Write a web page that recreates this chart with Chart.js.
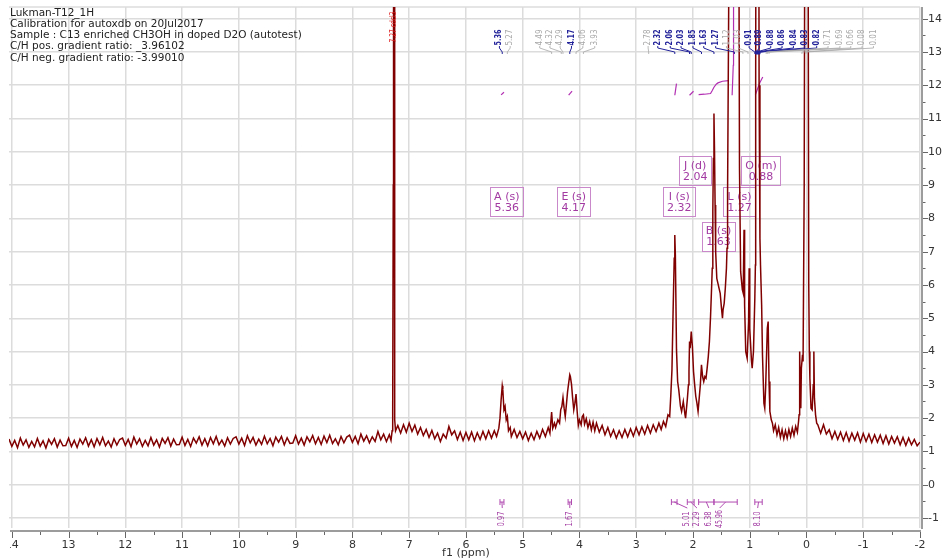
<!DOCTYPE html>
<html>
<head>
<meta charset="utf-8">
<script src="https://cdn.jsdelivr.net/npm/chart.js@4.4.1/dist/chart.umd.min.js"></script>
<style>
  html, body { margin: 0; padding: 0; background: #fff; }
  #wrap { width: 942px; height: 560px; }
</style>
</head>
<body>
<div id="wrap"><canvas id="nmr" width="942" height="560"></canvas></div>
<script>
// --- header text (top left of the plot)
const headerLines = [
    'Lukman-T12_1H',
    'Calibration for autoxdb on 20Jul2017',
    'Sample : C13 enriched CH3OH in doped D2O (autotest)',
    'C/H pos. gradient ratio: _3.96102',
    'C/H neg. gradient ratio: -3.99010'
];

// --- axes
const xTicks = [14, 13, 12, 11, 10, 9, 8, 7, 6, 5, 4, 3, 2, 1, 0, -1, -2];
const yTicks = [14, 13, 12, 11, 10, 9, 8, 7, 6, 5, 4, 3, 2, 1, 0, -1];
const xTitle = 'f1 (ppm)';

// --- 1H spectrum, [ppm, intensity]
const spectrumPoints = [
    [14.05,1.37],[14.00,1.15],[13.95,1.33],[13.90,1.11],[13.85,1.40],[13.80,1.19],[13.75,1.35],[13.70,1.12],[13.65,1.30],[13.60,1.14],
    [13.55,1.39],[13.50,1.16],[13.45,1.32],[13.40,1.10],[13.35,1.36],[13.30,1.21],[13.25,1.38],[13.20,1.13],[13.15,1.34],[13.10,1.17],
    [13.05,1.18],[13.00,1.40],[12.95,1.15],[12.90,1.33],[12.85,1.12],[12.80,1.37],[12.75,1.22],[12.70,1.41],[12.65,1.16],[12.60,1.35],
    [12.55,1.14],[12.50,1.39],[12.45,1.20],[12.40,1.42],[12.35,1.17],[12.30,1.31],[12.25,1.13],[12.20,1.38],[12.15,1.19],[12.10,1.36],
    [12.05,1.40],[12.00,1.18],[11.95,1.36],[11.90,1.14],[11.85,1.43],[11.80,1.22],[11.75,1.38],[11.70,1.15],[11.65,1.33],[11.60,1.17],
    [11.55,1.42],[11.50,1.19],[11.45,1.35],[11.40,1.13],[11.35,1.39],[11.30,1.24],[11.25,1.41],[11.20,1.16],[11.15,1.37],[11.10,1.20],
    [11.05,1.21],[11.00,1.43],[10.95,1.18],[10.90,1.36],[10.85,1.15],[10.80,1.40],[10.75,1.25],[10.70,1.44],[10.65,1.19],[10.60,1.38],
    [10.55,1.17],[10.50,1.42],[10.45,1.23],[10.40,1.45],[10.35,1.20],[10.30,1.34],[10.25,1.16],[10.20,1.41],[10.15,1.22],[10.10,1.39],
    [10.05,1.44],[10.00,1.22],[9.95,1.40],[9.90,1.18],[9.85,1.47],[9.80,1.26],[9.75,1.42],[9.70,1.19],[9.65,1.37],[9.60,1.21],
    [9.55,1.46],[9.50,1.23],[9.45,1.39],[9.40,1.17],[9.35,1.43],[9.30,1.28],[9.25,1.45],[9.20,1.20],[9.15,1.41],[9.10,1.24],
    [9.05,1.25],[9.00,1.47],[8.95,1.22],[8.90,1.40],[8.85,1.19],[8.80,1.44],[8.75,1.29],[8.70,1.48],[8.65,1.23],[8.60,1.42],
    [8.55,1.21],[8.50,1.46],[8.45,1.27],[8.40,1.49],[8.35,1.24],[8.30,1.38],[8.25,1.20],[8.20,1.45],[8.15,1.26],[8.10,1.43],
    [8.05,1.49],[8.00,1.27],[7.95,1.45],[7.90,1.23],[7.85,1.52],[7.80,1.31],[7.75,1.47],[7.70,1.26],[7.65,1.44],[7.60,1.30],
    [7.55,1.60],[7.50,1.35],[7.45,1.52],[7.40,1.30],[7.35,1.50],
    // CDCl3 residual
    [7.32,1.33],[7.30,1.62],[7.29,2.15],[7.28,9.0],[7.275,20],[7.265,20],[7.26,6.0],[7.25,1.95],[7.24,1.62],
    [7.20,1.78],[7.15,1.55],[7.10,1.80],[7.05,1.58],[7.00,1.85],[6.95,1.60],[6.90,1.79],[6.85,1.52],[6.80,1.72],[6.75,1.48],
    [6.70,1.66],[6.65,1.42],[6.60,1.63],[6.55,1.38],[6.50,1.55],[6.45,1.30],[6.40,1.52],[6.35,1.40],[6.30,1.75],[6.25,1.50],
    [6.20,1.62],[6.15,1.36],[6.10,1.58],[6.05,1.33],[6.00,1.57],[5.95,1.35],[5.90,1.58],[5.85,1.32],[5.80,1.56],[5.75,1.36],
    [5.70,1.60],[5.65,1.38],[5.60,1.62],[5.55,1.40],
    // A (s) 5.36
    [5.50,1.62],[5.46,1.45],[5.42,1.70],[5.40,2.00],[5.38,2.55],[5.36,2.97],[5.35,2.85],[5.33,2.25],[5.31,2.35],[5.29,1.95],
    [5.27,2.05],[5.25,1.62],[5.22,1.72],[5.20,1.45],
    [5.15,1.66],[5.10,1.42],[5.05,1.60],[5.00,1.38],[4.95,1.58],[4.90,1.33],[4.85,1.55],[4.80,1.35],[4.75,1.60],[4.70,1.40],
    [4.65,1.66],[4.60,1.45],[4.55,1.72],[4.52,1.55],
    // E (s) 4.17 multiplet
    [4.49,2.18],[4.47,1.70],[4.44,1.85],[4.42,1.72],[4.38,1.95],[4.35,1.85],[4.33,2.25],[4.31,2.35],[4.29,2.62],[4.27,2.30],
    [4.25,2.05],[4.23,2.40],[4.21,2.78],[4.19,3.05],[4.17,3.30],[4.16,3.25],[4.14,3.02],[4.12,2.60],[4.10,2.25],[4.08,2.45],
    [4.06,2.72],[4.04,2.20],[4.02,1.78],[4.00,1.95],[3.97,1.80],[3.95,2.05],[3.93,2.10],[3.91,1.82],[3.88,1.98],[3.85,1.72],
    [3.82,1.90],[3.79,1.65],[3.76,1.88],[3.73,1.62],[3.70,1.85],[3.65,1.58],[3.60,1.78],[3.55,1.50],[3.50,1.72],[3.45,1.45],
    [3.40,1.65],[3.35,1.40],[3.30,1.62],[3.25,1.42],[3.20,1.66],[3.15,1.44],[3.10,1.68],[3.05,1.46],[3.00,1.72],[2.95,1.50],
    [2.90,1.74],[2.85,1.52],[2.80,1.78],[2.75,1.55],[2.70,1.80],[2.65,1.60],[2.60,1.85],[2.56,1.66],[2.52,1.90],[2.48,1.75],
    // I (s) 2.32, J (d) 2.04
    [2.44,2.10],[2.41,2.05],[2.39,2.70],[2.37,3.45],[2.35,5.20],[2.33,6.80],[2.32,7.50],[2.31,6.90],[2.29,4.05],[2.27,3.10],
    [2.25,2.85],[2.22,2.35],[2.20,2.20],[2.17,2.50],[2.14,2.10],[2.13,2.00],[2.10,2.55],[2.08,3.00],[2.07,3.40],[2.06,4.30],
    [2.05,4.10],[2.03,4.60],[2.01,4.15],[1.99,3.40],[1.97,3.00],[1.95,2.65],[1.93,2.45],[1.91,2.20],[1.89,2.60],[1.87,3.00],
    // B (s) 1.63
    [1.85,3.60],[1.83,3.25],[1.81,3.10],[1.79,3.25],[1.77,3.20],[1.75,3.50],[1.73,3.85],[1.71,4.30],[1.69,5.06],[1.67,6.00],
    [1.66,6.50],[1.65,8.20],[1.64,9.80],[1.63,11.15],[1.62,10.00],[1.61,8.40],[1.60,7.00],[1.58,6.20],[1.56,6.05],[1.54,5.90],
    [1.52,5.75],[1.50,5.35],[1.48,5.00],[1.47,5.25],[1.45,5.45],[1.43,5.90],[1.41,6.50],[1.40,7.10],[1.39,8.80],[1.37,14.5],
    // L (s) 1.27, off scale
    [1.35,26],[1.31,32],[1.27,34],[1.23,30],[1.20,22],[1.18,9.5],[1.16,6.40],[1.13,5.86],[1.115,5.76],[1.10,7.66],
    [1.09,5.40],[1.07,4.00],[1.045,3.80],[1.02,4.90],[1.01,6.50],[1.00,4.70],[0.97,3.75],[0.957,3.50],[0.934,4.00],[0.91,5.60],
    // O (m) 0.88, off scale
    [0.90,6.60],[0.895,12],[0.885,26],[0.865,30],[0.845,24],[0.835,12],[0.82,7.40],[0.81,6.60],[0.79,5.40],[0.775,3.90],
    [0.75,2.45],[0.735,2.30],[0.72,2.90],[0.69,4.70],[0.675,4.90],[0.66,3.10],[0.645,2.20],[0.62,1.95],[0.60,1.85],[0.58,1.62],
    [0.55,1.80],[0.52,1.50],[0.49,1.72],[0.46,1.42],[0.43,1.65],[0.40,1.38],[0.37,1.62],[0.34,1.40],[0.31,1.66],[0.28,1.45],
    [0.25,1.70],[0.22,1.48],[0.19,1.75],[0.16,1.58],[0.14,1.90],[0.13,2.10],[0.12,4.00],[0.11,2.90],[0.10,2.30],[0.09,3.50],
    // TMS
    [0.07,3.90],[0.06,3.70],[0.04,9.0],[0.02,25],[0.00,40],[-0.02,25],[-0.04,6.0],[-0.05,4.00],[-0.06,3.20],[-0.08,2.30],
    [-0.10,2.25],[-0.12,3.00],[-0.13,4.00],[-0.14,2.60],[-0.16,2.10],[-0.18,1.85],[-0.20,1.80],
    [-0.25,1.55],[-0.30,1.80],[-0.35,1.52],[-0.40,1.65],[-0.45,1.38],[-0.50,1.60],[-0.55,1.36],[-0.60,1.58],[-0.65,1.33],
    [-0.70,1.57],[-0.75,1.31],[-0.80,1.55],[-0.85,1.34],[-0.90,1.56],[-0.95,1.28],[-1.00,1.54],[-1.05,1.30],[-1.10,1.52],
    [-1.15,1.27],[-1.20,1.50],[-1.25,1.28],[-1.30,1.49],[-1.35,1.24],[-1.40,1.47],[-1.45,1.22],[-1.50,1.45],[-1.55,1.25],
    [-1.60,1.44],[-1.65,1.20],[-1.70,1.42],[-1.75,1.18],[-1.80,1.40],[-1.85,1.20],[-1.90,1.36],[-1.95,1.17],[-2.00,1.28]
];

// --- peak picking labels (text, peak ppm, ppm where the text sits, colour group)
const peakPicks = [
    ['5.36', 5.36, 5.41, 'main'], ['5.27', 5.27, 5.22, 'minor'],
    ['4.49', 4.49, 4.70, 'minor'], ['4.32', 4.32, 4.52, 'minor'], ['4.29', 4.29, 4.34, 'minor'],
    ['4.17', 4.17, 4.14, 'main'], ['4.06', 4.06, 3.94, 'minor'], ['3.93', 3.93, 3.73, 'minor'],
    ['2.78', 2.78, 2.79, 'minor'], ['2.32', 2.32, 2.62, 'main'], ['2.06', 2.06, 2.40, 'main'],
    ['2.03', 2.03, 2.21, 'main'], ['1.85', 1.85, 2.00, 'main'], ['1.63', 1.63, 1.81, 'main'],
    ['1.27', 1.27, 1.60, 'main'], ['1.12', 1.12, 1.41, 'minor'], ['1.03', 1.03, 1.20, 'minor'],
    ['0.91', 0.91, 1.01, 'main'], ['0.89', 0.89, 0.83, 'main'], ['0.88', 0.88, 0.63, 'main'],
    ['0.86', 0.86, 0.43, 'main'], ['0.84', 0.84, 0.23, 'main'], ['0.83', 0.83, 0.03, 'main'],
    ['0.82', 0.82, -0.18, 'main'], ['0.71', 0.71, -0.38, 'minor'], ['0.69', 0.69, -0.59, 'minor'],
    ['0.66', 0.66, -0.78, 'minor'], ['0.08', 0.08, -0.98, 'minor'], ['0.01', 0.01, -1.18, 'minor']
];

// --- multiplet boxes: name, shift, box centre (ppm, intensity units)
const multiplets = [
    ['A (s)', '5.36', 5.28, 8.50], ['E (s)', '4.17', 4.10, 8.50], ['I (s)', '2.32', 2.24, 8.50],
    ['J (d)', '2.04', 1.96, 9.43], ['L (s)', '1.27', 1.18, 8.50], ['O (m)', '0.88', 0.80, 9.43],
    ['B (s)', '1.63', 1.55, 7.47]
];

// --- integral traces near the top, [ppm, height]
const integralA = [[5.38, 11.71], [5.33, 11.79]];
const integralE = [[4.19, 11.70], [4.13, 11.82]];
const integralI = [[2.32, 11.70], [2.29, 12.05]];
const integralJ = [[2.06, 11.70], [1.99, 11.82]];
const integralB = [[1.90, 11.72], [1.80, 11.73], [1.69, 11.75], [1.66, 11.84], [1.63, 11.94], [1.59, 12.03], [1.56, 12.07], [1.48, 12.12], [1.37, 12.14]];
const integralL = [[1.31, 11.70], [1.29, 12.6], [1.285, 15.0]];
const integralO = [[0.90, 11.71], [0.86, 11.90], [0.82, 12.08], [0.77, 12.25]];

// --- integral regions at the bottom: value, from ppm, to ppm, label ppm
const integralRegions = [
    ['0.97', 5.40, 5.33, 5.36], ['1.67', 4.20, 4.14, 4.17],
    ['5.01', 2.38, 2.28, 2.10], ['2.29', 2.10, 1.98, 1.93],
    ['6.38', 1.90, 1.63, 1.72], ['45.96', 1.63, 1.22, 1.53], ['8.10', 0.91, 0.78, 0.86]
];

const TRACE = '#800000';
const PURPLE = '#a23aa2';
const FONT = 'DejaVu Sans';

function rotText(ctx, txt, px, py, size, color, maxW, bold) {
    ctx.save();
    ctx.translate(px, py);
    ctx.rotate(-Math.PI / 2);
    ctx.font = (bold ? 'bold ' : '') + size + 'px "' + FONT + '"';
    ctx.fillStyle = color;
    ctx.textAlign = 'center';
    ctx.textBaseline = 'middle';
    ctx.fillText(txt, 0, 0, maxW);
    ctx.restore();
}

const nmrDecor = {
    id: 'nmrDecor',
    beforeDatasetsDraw(chart) {
        const { ctx, chartArea: a, scales: { x, y } } = chart;
        ctx.save();
        // top frame line
        ctx.strokeStyle = '#dcdcdc';
        ctx.lineWidth = 1.5;
        ctx.beginPath(); ctx.moveTo(a.left, a.top); ctx.lineTo(a.right, a.top); ctx.stroke();

        // multiplet boxes (trace shows through)
        ctx.font = '11px "' + FONT + '"';
        ctx.textAlign = 'center';
        ctx.textBaseline = 'middle';
        multiplets.forEach(([name, shift, ppm, h]) => {
            const cx = x.getPixelForValue(ppm), cy = y.getPixelForValue(h);
            const w = Math.max(ctx.measureText(name).width, ctx.measureText(shift).width) + 8;
            ctx.strokeStyle = '#c988c9';
            ctx.lineWidth = 1;
            ctx.strokeRect(Math.round(cx - w / 2) + 0.5, Math.round(cy - 14.5) + 0.5, Math.round(w), 29);
            ctx.fillStyle = PURPLE;
            ctx.fillText(name, cx, cy - 5);
            ctx.fillText(shift, cx, cy + 6.5);
        });
        ctx.restore();
    },
    afterDraw(chart) {
        const { ctx, chartArea: a, scales: { x, y } } = chart;
        ctx.save();

        // header
        ctx.font = '10.5px "' + FONT + '"';
        ctx.fillStyle = '#222';
        ctx.textAlign = 'left';
        ctx.textBaseline = 'middle';
        headerLines.forEach((t, i) => ctx.fillText(t, 10, 13 + i * 11.2));

        // right axis
        ctx.strokeStyle = '#9c9c9c';
        ctx.lineWidth = 2;
        ctx.beginPath(); ctx.moveTo(a.right + 2, a.top); ctx.lineTo(a.right + 2, a.bottom + 1); ctx.stroke();
        ctx.lineWidth = 1;
        ctx.strokeStyle = '#666';
        yTicks.forEach(v => {
            const py = Math.round(y.getPixelForValue(v)) + 0.5;
            ctx.beginPath(); ctx.moveTo(a.right + 3, py); ctx.lineTo(a.right + 8, py); ctx.stroke();
            const ph = Math.round(y.getPixelForValue(v + 0.5)) + 0.5;
            if (v + 0.5 < y.max) { ctx.beginPath(); ctx.moveTo(a.right + 3, ph); ctx.lineTo(a.right + 5.5, ph); ctx.stroke(); }
        });
        ctx.font = '11px "' + FONT + '"';
        ctx.fillStyle = '#333';
        ctx.textAlign = 'left';
        yTicks.forEach(v => ctx.fillText(String(v), a.right + 8, y.getPixelForValue(v)));

        // bottom axis
        const by = a.bottom + 3;
        ctx.strokeStyle = '#9c9c9c';
        ctx.lineWidth = 2;
        ctx.beginPath(); ctx.moveTo(a.left + 1, by); ctx.lineTo(a.right + 1, by); ctx.stroke();
        ctx.lineWidth = 1;
        ctx.strokeStyle = '#666';
        xTicks.forEach(v => {
            const px = Math.round(x.getPixelForValue(v)) + 0.5;
            ctx.beginPath(); ctx.moveTo(px, by + 1); ctx.lineTo(px, by + 7); ctx.stroke();
            if (v - 0.5 >= x.min) {
                const ph = Math.round(x.getPixelForValue(v - 0.5)) + 0.5;
                ctx.beginPath(); ctx.moveTo(ph, by + 1); ctx.lineTo(ph, by + 4); ctx.stroke();
            }
        });
        ctx.save();
        ctx.beginPath(); ctx.rect(a.left + 1, by, chart.width, 40); ctx.clip();
        ctx.textAlign = 'center';
        ctx.fillStyle = '#333';
        xTicks.forEach(v => ctx.fillText(String(v), x.getPixelForValue(v), by + 14));
        ctx.restore();
        ctx.textAlign = 'center';
        ctx.fillText(xTitle, x.getPixelForValue(6), by + 22);

        // solvent tag
        rotText(ctx, '7.27 cdcl3', x.getPixelForValue(7.27), 27, 8, '#e02020', 31);

        // peak picking
        peakPicks.forEach(([txt, ppm, at, grp]) => {
            const col = grp === 'main' ? '#22229a' : '#a8a8a8';
            const lx = x.getPixelForValue(at), tx = x.getPixelForValue(ppm);
            rotText(ctx, txt, lx, 37.5, 8, col, 16, grp === 'main');
            ctx.strokeStyle = col;
            ctx.lineWidth = grp === 'main' ? 1 : 0.8;
            ctx.beginPath();
            ctx.moveTo(lx, 46); ctx.lineTo(lx, 48); ctx.lineTo(tx, 52); ctx.lineTo(tx, 54);
            ctx.stroke();
        });
        ctx.fillStyle = '#22229a';
        ctx.fillRect(x.getPixelForValue(0.86) - 2.5, 50.5, 5, 4);

        // integral regions at the bottom
        ctx.strokeStyle = '#b04ab0';
        ctx.lineWidth = 1;
        const iy = y.getPixelForValue(-0.52);
        integralRegions.forEach(([val, from, to, at]) => {
            const x1 = x.getPixelForValue(from), x2 = x.getPixelForValue(to);
            const lx = x.getPixelForValue(at), mx = (x1 + x2) / 2;
            ctx.beginPath();
            ctx.moveTo(x1, iy - 3); ctx.lineTo(x1, iy + 3);
            ctx.moveTo(x2, iy - 3); ctx.lineTo(x2, iy + 3);
            ctx.moveTo(x1, iy); ctx.lineTo(x2, iy);
            ctx.moveTo(mx, iy); ctx.lineTo(lx, iy + 6);
            ctx.stroke();
            rotText(ctx, val, lx, y.getPixelForValue(-1.03), 8, PURPLE, val.length > 4 ? 18 : 15);
        });
        ctx.restore();
    }
};

const toXY = pts => pts.map(p => ({ x: p[0], y: p[1] }));
const integralSet = pts => ({
    data: toXY(pts), borderColor: '#b22fb2', borderWidth: 1.2, pointRadius: 0
});

new Chart(document.getElementById('nmr'), {
    type: 'line',
    data: {
        datasets: [
            { data: toXY(spectrumPoints), borderColor: TRACE, borderWidth: 1.5, pointRadius: 0 },
            integralSet(integralA), integralSet(integralE), integralSet(integralI),
            integralSet(integralJ), integralSet(integralB), integralSet(integralL), integralSet(integralO)
        ]
    },
    options: {
        responsive: false,
        animation: false,
        layout: { padding: { left: 9, top: 7, right: 0, bottom: 0 } },
        elements: { line: { tension: 0 }, point: { radius: 0 } },
        plugins: { legend: { display: false }, tooltip: { enabled: false } },
        scales: {
            x: {
                type: 'linear', reverse: true, min: -2, max: 14.05,
                afterBuildTicks: s => { s.ticks = xTicks.map(v => ({ value: v })); },
                afterFit: s => { s.height = 32; },
                ticks: { display: false },
                border: { display: false },
                grid: { color: '#dcdcdc', lineWidth: 1.5, drawTicks: false }
            },
            y: {
                position: 'right', min: -1.3, max: 14.35,
                afterBuildTicks: s => { s.ticks = yTicks.map(v => ({ value: v })); },
                afterFit: s => { s.width = 22; },
                ticks: { display: false },
                border: { display: false },
                grid: { color: '#dcdcdc', lineWidth: 1.5, drawTicks: false }
            }
        }
    },
    plugins: [nmrDecor]
});
</script>
</body>
</html>
